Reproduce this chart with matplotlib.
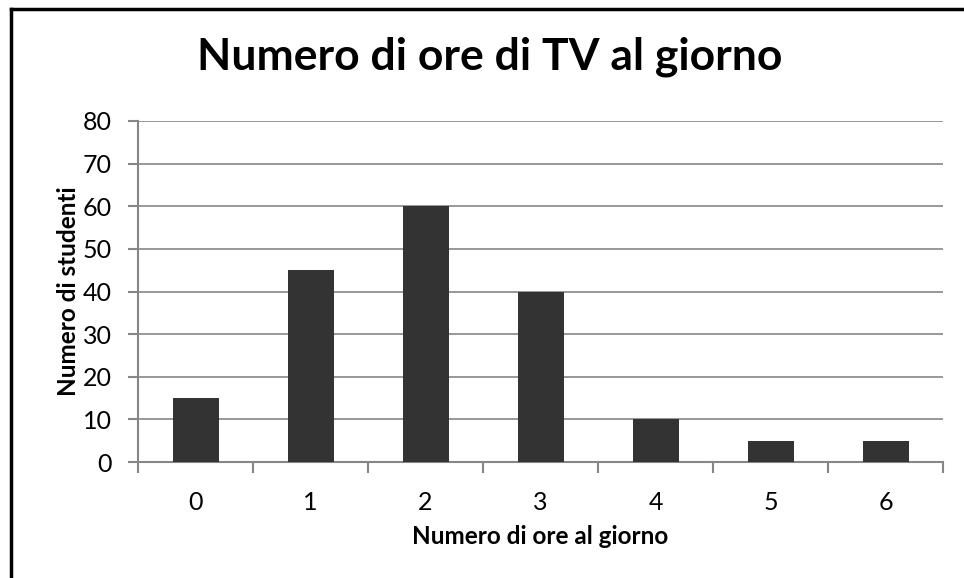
import matplotlib
matplotlib.use("Agg")
import matplotlib.pyplot as plt
from matplotlib.lines import Line2D

categories = ["0", "1", "2", "3", "4", "5", "6"]
values = [15, 45, 60, 40, 10, 5, 5]
yticks = [0, 10, 20, 30, 40, 50, 60, 70, 80]

title = "Numero di ore di TV al giorno"
xlabel = "Numero di ore al giorno"
ylabel = "Numero di studenti"

plt.rcParams['font.family'] = ['Lato', 'DejaVu Sans']

fig = plt.figure(figsize=(9.64, 5.78), dpi=100)
ax = fig.add_axes([138/964, 1-462/578, (943-138)/964, (462-121)/578])

grid_c = "#868686"
x = list(range(len(categories)))
ax.bar(x, values, width=0.4, color="#333333", zorder=3)
ax.set_xlim(-0.5, len(categories)-0.5)
ax.set_ylim(0, 80)
ax.set_yticks(yticks)
ax.set_yticklabels([str(v) for v in yticks], fontsize=18)
ax.set_xticks(x)
ax.set_xticklabels(categories, fontsize=18)
ax.set_xticks([i-0.5 for i in range(len(categories)+1)], minor=True)
ax.tick_params(axis='x', which='major', length=0, pad=21)
ax.tick_params(axis='x', which='minor', length=8, width=1.5, color=grid_c, direction='out')
ax.tick_params(axis='y', length=7, width=1.5, color=grid_c, pad=12)
ax.yaxis.grid(True, color=grid_c, linewidth=1.2, zorder=0)
for s in ["top", "right"]:
    ax.spines[s].set_visible(False)
for s in ["left", "bottom"]:
    ax.spines[s].set_color(grid_c)
    ax.spines[s].set_linewidth(1.5)

ax.set_xlabel(xlabel, fontsize=17.5, fontweight='bold', labelpad=8)
ax.set_ylabel(ylabel, fontsize=17.5, fontweight='bold', labelpad=2)
fig.text(490/964, 1-57/578, title, fontsize=32, fontweight='bold', ha='center', va='center')

# figure border (left and top visible)
fig.add_artist(Line2D([11/964, 11/964], [0, 1-9/578], transform=fig.transFigure, color='black', linewidth=2.5))
fig.add_artist(Line2D([11/964, 1], [1-9/578, 1-9/578], transform=fig.transFigure, color='black', linewidth=2.5))

fig.savefig("out.png", dpi=100)
